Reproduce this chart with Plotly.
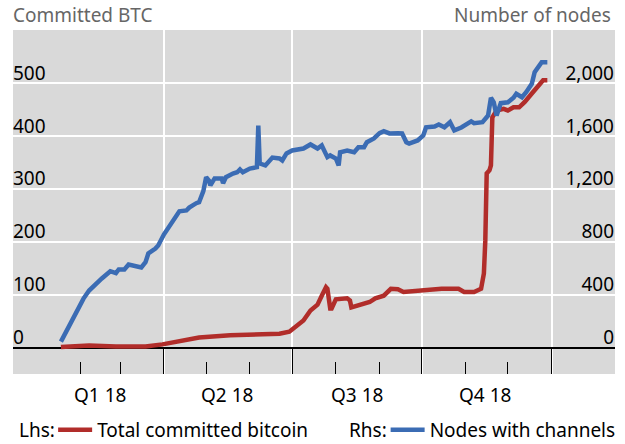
import plotly.graph_objects as go

# ---- data ----
btc_dates = ["2018-01-18", "2018-02-07", "2018-02-26", "2018-03-19", "2018-03-31", "2018-04-18",
             "2018-04-26", "2018-05-18", "2018-06-08", "2018-06-22", "2018-06-29", "2018-07-05",
             "2018-07-09", "2018-07-14", "2018-07-19", "2018-07-22", "2018-07-25", "2018-07-26",
             "2018-07-28", "2018-07-29", "2018-08-01", "2018-08-09", "2018-08-11", "2018-08-12",
             "2018-08-18", "2018-08-25", "2018-08-29", "2018-09-04", "2018-09-09", "2018-09-14",
             "2018-09-18", "2018-09-28", "2018-10-10", "2018-10-15", "2018-10-27", "2018-10-31",
             "2018-11-07", "2018-11-12", "2018-11-14", "2018-11-15", "2018-11-16", "2018-11-18",
             "2018-11-19", "2018-11-20", "2018-11-23", "2018-11-28", "2018-12-01", "2018-12-05",
             "2018-12-09", "2018-12-13", "2018-12-18", "2018-12-23", "2018-12-26", "2018-12-29"]
btc_values = [1, 4, 2, 2, 6, 15,
              19, 23, 26, 26, 30, 42,
              51, 70, 81, 98, 114, 111,
              74, 74, 91, 93, 89, 76,
              81, 86, 93, 98, 111, 110,
              105, 108, 110, 111, 111, 105,
              105, 111, 140, 202, 329, 335,
              344, 435, 448, 451, 448, 454,
              454, 464, 480, 495, 505, 505]

node_dates = ["2018-01-18", "2018-01-21", "2018-01-26", "2018-01-29", "2018-02-03", "2018-02-07",
              "2018-02-12", "2018-02-16", "2018-02-22", "2018-02-26", "2018-02-28", "2018-03-04",
              "2018-03-07", "2018-03-12", "2018-03-16", "2018-03-19", "2018-03-21", "2018-03-26",
              "2018-03-28", "2018-04-01", "2018-04-06", "2018-04-12", "2018-04-17", "2018-04-19",
              "2018-04-24", "2018-04-26", "2018-04-29", "2018-05-01", "2018-05-03", "2018-05-04",
              "2018-05-07", "2018-05-12", "2018-05-13", "2018-05-15", "2018-05-20", "2018-05-23",
              "2018-05-25", "2018-05-27", "2018-06-01", "2018-06-06", "2018-06-07", "2018-06-08",
              "2018-06-12", "2018-06-17", "2018-06-22", "2018-06-24", "2018-06-27", "2018-07-01",
              "2018-07-09", "2018-07-14", "2018-07-19", "2018-07-22", "2018-07-26", "2018-07-28",
              "2018-08-01", "2018-08-03", "2018-08-04", "2018-08-09", "2018-08-14", "2018-08-17",
              "2018-08-21", "2018-08-23", "2018-08-28", "2018-09-01", "2018-09-04", "2018-09-08",
              "2018-09-14", "2018-09-17", "2018-09-20", "2018-09-22", "2018-09-28", "2018-10-02",
              "2018-10-04", "2018-10-10", "2018-10-13", "2018-10-17", "2018-10-21", "2018-10-24",
              "2018-10-29", "2018-11-05", "2018-11-07", "2018-11-13", "2018-11-17", "2018-11-19",
              "2018-11-21", "2018-11-23", "2018-11-26", "2018-12-01", "2018-12-05", "2018-12-07",
              "2018-12-11", "2018-12-14", "2018-12-18", "2018-12-20", "2018-12-25", "2018-12-29"]
node_values = [45, 106, 204, 280, 370, 431,
               486, 522, 577, 562, 590, 590,
               627, 612, 605, 645, 711, 748,
               771, 854, 937, 1030, 1036, 1058,
               1091, 1098, 1182, 1287, 1262, 1225,
               1278, 1278, 1242, 1287, 1315, 1325,
               1346, 1325, 1353, 1363, 1678, 1391,
               1376, 1436, 1429, 1414, 1467, 1489,
               1504, 1535, 1504, 1527, 1439, 1452,
               1429, 1376, 1476, 1489, 1476, 1514,
               1514, 1552, 1580, 1620, 1635, 1618,
               1620, 1618, 1552, 1542, 1565, 1603,
               1665, 1671, 1686, 1665, 1703, 1641,
               1663, 1709, 1696, 1703, 1754, 1888,
               1854, 1754, 1847, 1854, 1888, 1918,
               1892, 1930, 1994, 2081, 2157, 2157]

quarter_label_dates = ["2018-02-15", "2018-05-16", "2018-08-16", "2018-11-15"]
quarter_labels = ["Q1 18", "Q2 18", "Q3 18", "Q4 18"]
quarter_bounds = ["2018-04-01", "2018-07-01", "2018-10-01", "2019-01-01"]
month_ticks = ["2018-02-01", "2018-03-01", "2018-05-01", "2018-06-01", "2018-08-01",
               "2018-09-01", "2018-11-01", "2018-12-01"]
lhs_ticks = [0, 100, 200, 300, 400, 500]
rhs_ticks = [0, 400, 800, 1200, 1600, 2000]

RED = "#b12d2a"
BLUE = "#3b6cb4"
FONT = "Noto Sans"

fig = go.Figure()
fig.add_trace(go.Scatter(x=btc_dates, y=btc_values, mode="lines", name="Total committed bitcoin",
                         line=dict(color=RED, width=4.5), yaxis="y", legend="legend",
                         showlegend=True))
fig.add_trace(go.Scatter(x=node_dates, y=node_values, mode="lines", name="Nodes with channels",
                         line=dict(color=BLUE, width=4.5), yaxis="y2", legend="legend2",
                         showlegend=True))

annotations = [
    dict(text="Committed BTC", xref="paper", yref="paper", x=-0.004, y=1.044, xanchor="left",
         yanchor="middle", showarrow=False, font=dict(size=19, color="#666666", family=FONT)),
    dict(text="Number of nodes", xref="paper", yref="paper", x=0.997, y=1.044, xanchor="right",
         yanchor="middle", showarrow=False, font=dict(size=19, color="#666666", family=FONT)),
    dict(text="Lhs:", xref="paper", yref="paper", x=0.007, y=-0.163, xanchor="left",
         yanchor="middle", showarrow=False, font=dict(size=19, color="#000000", family=FONT)),
    dict(text="Rhs:", xref="paper", yref="paper", x=0.555, y=-0.163, xanchor="left",
         yanchor="middle", showarrow=False, font=dict(size=19, color="#000000", family=FONT)),
]
for d, t in zip(quarter_label_dates, quarter_labels):
    annotations.append(dict(text=t, xref="x", yref="paper", x=d, y=-0.061, xanchor="center",
                            yanchor="middle", showarrow=False,
                            font=dict(size=19, color="#000000", family=FONT)))

fig.update_layout(
    width=625, height=444,
    margin=dict(l=13, r=10, t=30, b=70, autoexpand=False),
    showlegend=True,
    paper_bgcolor="white", plot_bgcolor="#d9d9d9",
    font=dict(family=FONT, size=19, color="#000000"),
    annotations=annotations,
    xaxis=dict(type="date", range=["2017-12-15", "2019-02-15"], automargin=False,
               tickmode="array", tickvals=quarter_bounds, ticktext=["", "", "", ""],
               ticks="inside", ticklen=27, tickwidth=1.2, tickcolor="#000000",
               showgrid=True, gridcolor="white", gridwidth=2,
               minor=dict(tickmode="array", tickvals=month_ticks, ticks="inside", ticklen=12,
                          tickwidth=1.2, tickcolor="#000000", showgrid=False),
               showline=False, zeroline=False, fixedrange=True),
    yaxis=dict(range=[-50, 600], tickmode="array", tickvals=lhs_ticks, automargin=False,
               ticklabelposition="inside", ticklabelshift=-10, ticklabelstandoff=-3,
               tickfont=dict(color="#000000", size=19, family=FONT),
               showgrid=True, gridcolor="white", gridwidth=2,
               zeroline=True, zerolinecolor="#000000", zerolinewidth=1.5,
               showline=False, ticks="", fixedrange=True),
    yaxis2=dict(range=[-200, 2400], overlaying="y", side="right", tickmode="array",
                tickvals=rhs_ticks, tickformat=",", ticklabelposition="inside", automargin=False,
                tickfont=dict(color="#000000", size=19, family=FONT),
                ticklabelshift=-10, ticklabelstandoff=-2, showgrid=False, zeroline=False,
                showline=False, ticks="", fixedrange=True),
    legend=dict(orientation="h", xref="container", yref="container", x=0.085, y=0.032,
                xanchor="left", yanchor="middle", bgcolor="rgba(0,0,0,0)", itemwidth=34,
                font=dict(size=19, family=FONT, color="#000000")),
    legend2=dict(orientation="h", xref="container", yref="container", x=0.617, y=0.032,
                 xanchor="left", yanchor="middle", bgcolor="rgba(0,0,0,0)", itemwidth=34,
                 font=dict(size=19, family=FONT, color="#000000")),
)

fig.write_html("out.html", config={"displayModeBar": False},
               post_script="document.body.style.margin='0';document.body.style.overflow='hidden';")
